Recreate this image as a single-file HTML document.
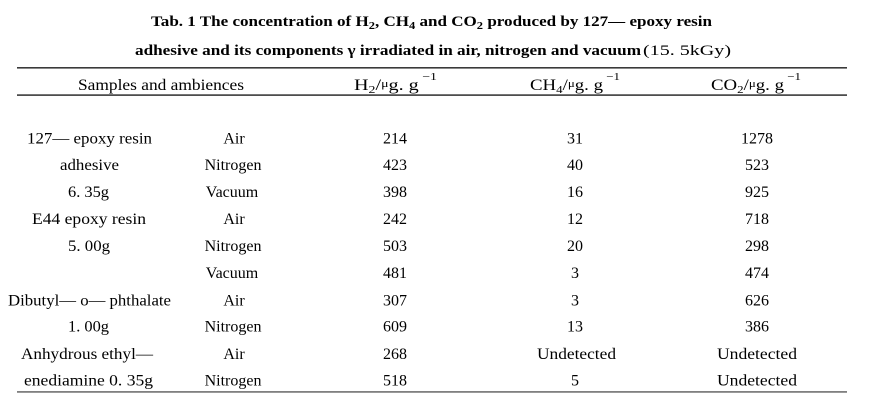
<!DOCTYPE html>
<html>
<head>
<meta charset="utf-8">
<style>
html,body{margin:0;padding:0;background:#fff;}
svg{display:block;}
text{font-family:"Liberation Serif","Noto Serif CJK SC",serif;fill:#000;}
.b{font-weight:bold;}
</style>
</head>
<body>
<svg width="888" height="413" viewBox="0 0 888 413" xmlns="http://www.w3.org/2000/svg">
<rect width="888" height="413" fill="#fff"/>

<!-- Title -->
<text class="b" x="151" y="26" font-size="15" textLength="561" lengthAdjust="spacingAndGlyphs">Tab. 1 The concentration of H<tspan font-size="11" dy="3">2</tspan><tspan dy="-3">, CH</tspan><tspan font-size="11" dy="3">4</tspan><tspan dy="-3"> and CO</tspan><tspan font-size="11" dy="3">2</tspan><tspan dy="-3"> produced by 127— epoxy resin</tspan></text>
<text class="b" x="135" y="55" font-size="15" textLength="506" lengthAdjust="spacingAndGlyphs">adhesive and its components γ irradiated in air, nitrogen and vacuum</text>
<text x="643" y="55" font-size="15" textLength="88" lengthAdjust="spacingAndGlyphs">(15. 5kGy)</text>

<!-- Rules -->
<rect x="17" y="67" width="830" height="1.6" fill="#3a3a3a"/>
<rect x="17" y="94.3" width="830" height="1.6" fill="#3a3a3a"/>
<rect x="17" y="391" width="830" height="1.8" fill="#808080"/>

<!-- Header -->
<text x="78" y="90" font-size="16" textLength="166" lengthAdjust="spacingAndGlyphs">Samples and ambiences</text>
<text x="354" y="90" font-size="16" textLength="83" lengthAdjust="spacingAndGlyphs">H<tspan font-size="11" dy="3">2</tspan><tspan dy="-3">/</tspan><tspan font-size="11" dy="-3">μ</tspan><tspan dy="3">g. g</tspan><tspan font-size="11" dy="-10"> −1</tspan></text>
<text x="530" y="90" font-size="16" textLength="90" lengthAdjust="spacingAndGlyphs">CH<tspan font-size="11" dy="3">4</tspan><tspan dy="-3">/</tspan><tspan font-size="11" dy="-3">μ</tspan><tspan dy="3">g. g</tspan><tspan font-size="11" dy="-10"> −1</tspan></text>
<text x="711" y="90" font-size="16" textLength="90" lengthAdjust="spacingAndGlyphs">CO<tspan font-size="11" dy="3">2</tspan><tspan dy="-3">/</tspan><tspan font-size="11" dy="-3">μ</tspan><tspan dy="3">g. g</tspan><tspan font-size="11" dy="-10"> −1</tspan></text>

<!-- Column 1: samples -->
<g font-size="16">
<text x="27" y="143.5" textLength="125" lengthAdjust="spacingAndGlyphs">127— epoxy resin</text>
<text x="60" y="170" textLength="59" lengthAdjust="spacingAndGlyphs">adhesive</text>
<text x="68" y="197" textLength="41" lengthAdjust="spacingAndGlyphs">6. 35g</text>
<text x="32" y="224" textLength="114" lengthAdjust="spacingAndGlyphs">E44 epoxy resin</text>
<text x="68" y="251" textLength="42" lengthAdjust="spacingAndGlyphs">5. 00g</text>
<text x="8" y="305.5" textLength="163" lengthAdjust="spacingAndGlyphs">Dibutyl— o— phthalate</text>
<text x="68" y="331.5" textLength="41" lengthAdjust="spacingAndGlyphs">1. 00g</text>
<text x="21" y="359" textLength="132" lengthAdjust="spacingAndGlyphs">Anhydrous ethyl—</text>
<text x="24" y="385.5" textLength="129" lengthAdjust="spacingAndGlyphs">enediamine 0. 35g</text>
</g>

<!-- Column 2: ambiences -->
<g font-size="16" text-anchor="middle">
<text x="234" y="143.5">Air</text>
<text x="233" y="170">Nitrogen</text>
<text x="232" y="197">Vacuum</text>
<text x="234" y="224">Air</text>
<text x="233" y="251">Nitrogen</text>
<text x="232" y="278">Vacuum</text>
<text x="234" y="305.5">Air</text>
<text x="233" y="331.5">Nitrogen</text>
<text x="234" y="359">Air</text>
<text x="233" y="385.5">Nitrogen</text>
</g>

<!-- Column 3: H2 -->
<g font-size="16" text-anchor="middle">
<text x="395" y="143.5">214</text>
<text x="395" y="170">423</text>
<text x="395" y="197">398</text>
<text x="395" y="224">242</text>
<text x="395" y="251">503</text>
<text x="395" y="278">481</text>
<text x="395" y="305.5">307</text>
<text x="395" y="331.5">609</text>
<text x="395" y="359">268</text>
<text x="395" y="385.5">518</text>
</g>

<!-- Column 4: CH4 -->
<g font-size="16" text-anchor="middle">
<text x="575" y="143.5">31</text>
<text x="575" y="170">40</text>
<text x="575" y="197">16</text>
<text x="575" y="224">12</text>
<text x="575" y="251">20</text>
<text x="575" y="278">3</text>
<text x="575" y="305.5">3</text>
<text x="575" y="331.5">13</text>
<text x="537" y="359" text-anchor="start" textLength="79" lengthAdjust="spacingAndGlyphs">Undetected</text>
<text x="575" y="385.5">5</text>
</g>

<!-- Column 5: CO2 -->
<g font-size="16" text-anchor="middle">
<text x="757" y="143.5">1278</text>
<text x="757" y="170">523</text>
<text x="757" y="197">925</text>
<text x="757" y="224">718</text>
<text x="757" y="251">298</text>
<text x="757" y="278">474</text>
<text x="757" y="305.5">626</text>
<text x="757" y="331.5">386</text>
<text x="717" y="359" text-anchor="start" textLength="80" lengthAdjust="spacingAndGlyphs">Undetected</text>
<text x="717" y="385.5" text-anchor="start" textLength="80" lengthAdjust="spacingAndGlyphs">Undetected</text>
</g>
</svg>
</body>
</html>
